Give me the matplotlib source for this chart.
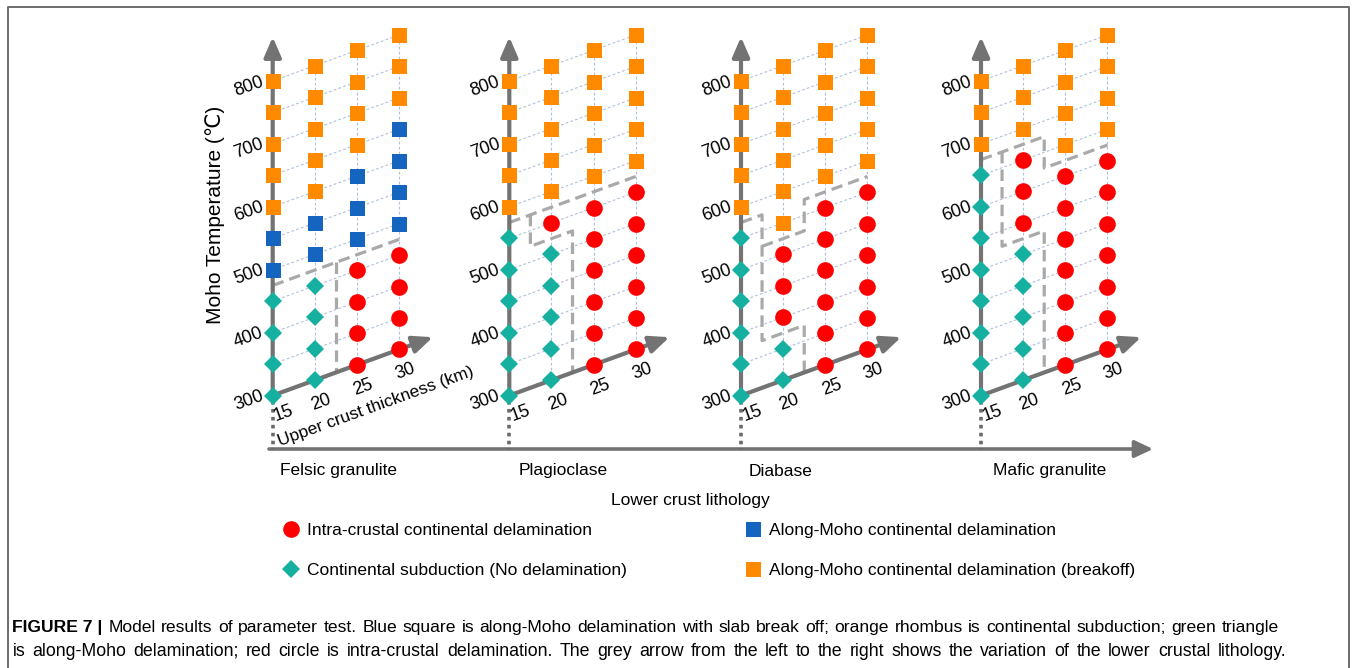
import matplotlib
matplotlib.use("Agg")
import matplotlib.pyplot as plt
from matplotlib.transforms import Affine2D
from matplotlib.lines import Line2D

plt.rcParams['font.family'] = ['Liberation Sans', 'DejaVu Sans']

# ---- data ----
temps = [300, 350, 400, 450, 500, 550, 600, 650, 700, 750, 800]
thick = [15, 20, 25, 30]
temp_ticks = [300, 400, 500, 600, 700, 800]
lithologies = ["Felsic granulite", "Plagioclase", "Diabase", "Mafic granulite"]

# regime for each temperature (300 -> 800), one string per upper crust thickness
# I intra-crustal, S subduction, M along-Moho, B along-Moho breakoff
felsic = ["SSSSMMBBBBB", "SSSSMMBBBBB", "IIIIMMMBBBB", "IIIIMMMMBBB"]
plagio = ["SSSSSSBBBBB", "SSSSSIBBBBB", "IIIIIIBBBBB", "IIIIIIBBBBB"]
diabase = ["SSSSSSBBBBB", "SSIIIBBBBBB", "IIIIIIBBBBB", "IIIIIIBBBBB"]
mafic = ["SSSSSSSSBBB", "SSSSSIIIBBB", "IIIIIIIBBBB", "IIIIIIIBBBB"]

# regime boundaries drawn as thick dashed lines (thickness, temperature)
felsic_bnd = [[(15, 475), (30, 475)],
              [(22.5, 475), (22.5, 300)]]
plagio_bnd = [[(15, 575), (30, 575)],
              [(17.5, 575), (17.5, 525), (22.5, 525), (22.5, 300)]]
diabase_bnd = [[(15, 575), (17.5, 575), (17.5, 375), (22.5, 375), (22.5, 300)],
               [(17.5, 525), (22.5, 525), (22.5, 575), (30, 575)]]
mafic_bnd = [[(15, 675), (22.5, 675), (22.5, 625), (30, 625)],
             [(17.5, 675), (17.5, 525), (22.5, 525), (22.5, 300)]]

panels = [felsic, plagio, diabase, mafic]
bounds = [felsic_bnd, plagio_bnd, diabase_bnd, mafic_bnd]

regimes = {
    "I": ("o", "#ff0000", 12.0, "Intra-crustal continental delamination"),
    "S": ("D", "#15b0a0", 9.4, "Continental subduction (No delamination)"),
    "M": ("s", "#1464c0", 10.8, "Along-Moho continental delamination"),
    "B": ("s", "#ff8a00", 10.8, "Along-Moho continental delamination (breakoff)"),
}

caption1 = ("Model results of parameter test. Blue square is along-Moho "
            "delamination with slab break off; orange rhombus is continental "
            "subduction; green triangle")
caption2 = ("is along-Moho delamination; red circle is intra-crustal "
            "delamination. The grey arrow from the left to the right shows the "
            "variation of the lower crustal lithology.")

# ---- layout (pixels) ----
W, H = 1356, 668
KX = 8.43      # px per km
KT = 0.629     # px per degC
SHEAR = 3.07 / KT   # oblique projection: degC lift per km
ox = [272.7, 509.3, 741.0, 981.0]
oy = 395.5
AXC = "#737373"
GRID = "#b0c0da"
BND = "#a9a9a9"

fig = plt.figure(figsize=(W / 100, H / 100), dpi=100)

bg = fig.add_axes([0, 0, 1, 1], zorder=-1)
bg.set_xlim(0, W)
bg.set_ylim(H, 0)
bg.axis("off")

for p, (cols, bnd) in enumerate(zip(panels, bounds)):
    left = ox[p] - 15 * KX
    bottom = H - (oy + 100 * KT)
    ax = fig.add_axes([left / W, bottom / H, 40 * KX / W, 700 * KT / H])
    ax.set_xlim(0, 40)
    ax.set_ylim(200, 900)
    ax.axis("off")
    ax.patch.set_alpha(0)
    tr = Affine2D.from_values(1, SHEAR, 0, 1, 0, -15 * SHEAR) + ax.transData

    # thin grid
    for t in temps:
        ax.plot([thick[0], thick[-1]], [t, t], transform=tr, color=GRID,
                lw=0.8, ls=(0, (2.5, 2)), zorder=1)
    for th in thick[1:]:
        ax.plot([th, th], [temps[0], temps[-1]], transform=tr, color=GRID,
                lw=0.8, ls=(0, (2.5, 2)), zorder=1)

    # regime boundaries
    for line in bnd:
        xs = [v[0] for v in line]
        ys = [v[1] for v in line]
        ax.plot(xs, ys, transform=tr, color=BND, lw=2.3, dashes=(3.6, 1.9),
                zorder=2)

    # axes arrows
    ap = dict(arrowstyle="-|>,head_length=0.6,head_width=0.26", color=AXC,
              lw=3, mutation_scale=20, shrinkA=0, shrinkB=0)
    ax.annotate("", xy=(15, 870), xytext=(15, 300), xycoords=tr,
                textcoords=tr, arrowprops=ap, zorder=3)
    ax.annotate("", xy=(34, 300), xytext=(15, 300), xycoords=tr,
                textcoords=tr, arrowprops=ap, zorder=3)
    # dotted drop to the lithology arrow
    ax.plot([15, 15], [292, 213], transform=tr, color="#6a6a6a", lw=2.6,
            ls=(0, (1, 1.2)), zorder=3, clip_on=False)

    # markers
    for th, codes in zip(thick, cols):
        for key, (mk, col, ms, lab) in regimes.items():
            ts = [t for t, c in zip(temps, codes) if c == key]
            if ts:
                ax.plot([th] * len(ts), ts, ls="none", marker=mk, color=col,
                        ms=ms, mew=0, transform=tr, zorder=4, clip_on=False)

    # tick labels
    for t in temp_ticks:
        ax.annotate(str(t), xy=(15, t), xycoords=tr, xytext=(-7, 0),
                    textcoords="offset points", ha="right", va="center",
                    rotation=20, rotation_mode="anchor", fontsize=13)
    for i, th in enumerate(thick):
        dx, dy = (8, -13) if i == 0 else (4.5, -16)
        ax.annotate(str(th), xy=(th, 300), xycoords=tr, xytext=(dx, dy),
                    textcoords="offset points", ha="center", va="center",
                    rotation=20, rotation_mode="anchor", fontsize=13)

    if p == 0:
        ax.text(27.2, 223, "Upper crust thickness (km)", transform=tr,
                ha="center", va="center", rotation=20, rotation_mode="anchor",
                fontsize=12.5)

fig.text(215 / W, 1 - 215 / H, "Moho Temperature (℃)", rotation=90,
         ha="center", va="center", fontsize=15)

# lithology arrow and labels
bg.annotate("", xy=(1153, 449), xytext=(269, 449),
            arrowprops=dict(arrowstyle="-|>,head_length=0.55,head_width=0.26",
                            color=AXC, lw=2.6, mutation_scale=20,
                            shrinkA=0, shrinkB=0))
lith_x = [338, 563, 781, 1050]
for x, name in zip(lith_x, lithologies):
    bg.text(x, 471, name, ha="center", va="center", fontsize=12.5)
bg.text(690, 501, "Lower crust lithology", ha="center", va="center",
        fontsize=12.5)

# legend
handles = []
labels = []
for key in ["I", "S", "M", "B"]:
    mk, col, ms, lab = regimes[key]
    handles.append(Line2D([], [], ls="none", marker=mk, color=col, ms=ms, mew=0))
    labels.append(lab)
fig.legend(handles, labels, ncol=2, loc="upper left",
           bbox_to_anchor=(282 / W, 1 - 523 / H), frameon=False,
           fontsize=12.5, handlelength=1.0, handletextpad=0.42,
           columnspacing=6.8, labelspacing=1.44, borderpad=0,
           borderaxespad=0)

# frame
bg.plot([8.3, 8.3, 1348.5, 1348.5], [H + 2, 6.5, 6.5, H + 2], color="#6b6b6b",
        lw=1.4, clip_on=False)


# caption, justified between the frame margins
def justify(y, tokens, x0, x1, size, nbold=0):
    renderer = fig.canvas.get_renderer()
    arts = [bg.text(0, y, w, fontsize=size, ha="left", va="baseline",
                    fontweight="bold" if i < nbold else "normal")
            for i, w in enumerate(tokens)]
    while True:
        widths = [a.get_window_extent(renderer).width for a in arts]
        gap = (x1 - x0 - sum(widths)) / (len(arts) - 1)
        if gap >= 0.3 * size * 100 / 72 or size < 10:
            break
        size -= 0.1
        for a in arts:
            a.set_fontsize(size)
    x = x0
    for a, w in zip(arts, widths):
        a.set_x(x)
        x += w + gap


justify(632, ["FIGURE 7 |"] + caption1.split(), 12.5, 1279, 12.8, nbold=1)
justify(656, caption2.split(), 12.5, 1286, 12.8)

fig.savefig("out.png", dpi=100)
